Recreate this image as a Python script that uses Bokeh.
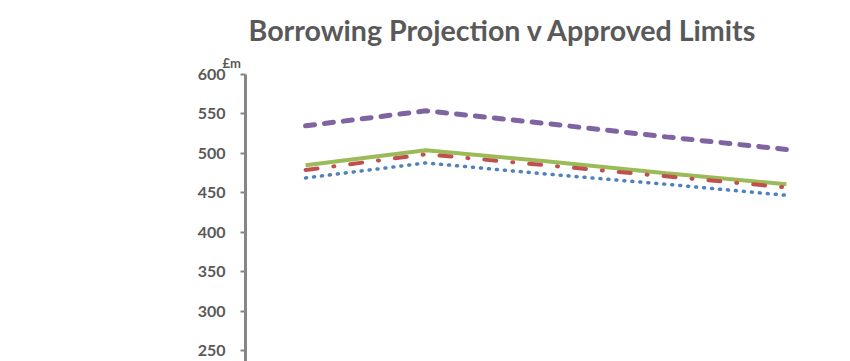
from bokeh.plotting import figure
from bokeh.models import Range1d, Title, FixedTicker
from bokeh.embed import file_html
from bokeh.resources import INLINE

# Data
periods = ["P1", "P2", "P3", "P4", "P5"]
authorised_limit = [535, 554, 538, 521, 505]
operational_boundary = [485, 504, 490, 475, 461]
capital_financing = [479, 499, 485, 471, 457]
projected_borrowing = [469, 488, 474, 461, 447]
y_ticks = [250, 300, 350, 400, 450, 500, 550, 600]

title_text = "Borrowing Projection v Approved Limits"
unit_text = "£m"

xs = list(range(len(periods)))

p = figure(width=850, height=361, output_backend="svg", toolbar_location=None,
           x_range=Range1d(-0.5, 4.533), y_range=Range1d(236.5, 600),
           x_axis_location=None, min_border_left=245, min_border_right=0,
           min_border_top=74, min_border_bottom=0)
p.outline_line_color = None
p.xgrid.visible = False
p.ygrid.visible = False
p.background_fill_color = "white"
p.border_fill_color = "white"

ax = p.yaxis[0]
ax.ticker = FixedTicker(ticks=y_ticks)
ax.axis_line_color = "#868686"
ax.axis_line_width = 3
ax.major_tick_line_color = "#868686"
ax.major_tick_line_width = 2
ax.major_tick_out = 5
ax.major_tick_in = 0
ax.minor_tick_out = 0
ax.minor_tick_in = 0
ax.major_label_text_font = "Lato"
ax.major_label_text_font_style = "bold"
ax.major_label_text_font_size = "16px"
ax.major_label_text_color = "#595959"
ax.major_label_standoff = 15

p.line(xs, authorised_limit, line_color="#8064A2", line_width=5,
       line_dash="9 10", line_cap="round")
p.line(xs, operational_boundary, line_color="#9BBB59", line_width=4)
p.line(xs, capital_financing, line_color="#C0504D", line_width=4,
       line_dash="12 16 1 16", line_cap="round")
p.line(xs, projected_borrowing, line_color="#4F81BD", line_width=3.5,
       line_dash="1 7", line_cap="round")

unit = Title(text=unit_text, align="left", offset=-23, standoff=8,
             text_font="Lato", text_font_style="bold", text_font_size="13px",
             text_color="#595959")
p.add_layout(unit, "above")

p.title.text = title_text
p.title.align = "left"
p.title.offset = 3
p.title.standoff = 4
p.title.text_font = "Lato"
p.title.text_font_style = "bold"
p.title.text_font_size = "28.6px"
p.title.text_color = "#595959"

open("out.html", "w").write(file_html(p, INLINE))
